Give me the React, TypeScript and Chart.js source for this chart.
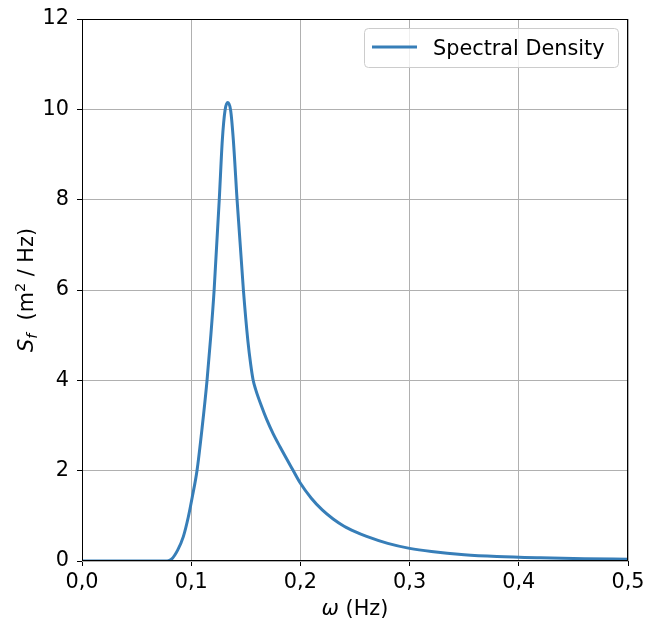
import React, { useEffect, useRef } from 'react';
import { Chart, registerables } from 'chart.js';

Chart.register(...registerables);

// ---- data ----
const frequencies = [
  0, 0.06, 0.078, 0.082, 0.0876, 0.0928, 0.0974, 0.101, 0.1053, 0.11, 0.1145,
  0.118, 0.121, 0.1257, 0.1285, 0.131, 0.1334, 0.1361, 0.1386, 0.142, 0.1478,
  0.152, 0.1545, 0.1566, 0.159, 0.1645, 0.169, 0.175, 0.1813, 0.193, 0.2, 0.21,
  0.22, 0.23, 0.24, 0.25, 0.26, 0.28, 0.3, 0.32, 0.35, 0.38, 0.42, 0.46, 0.5,
];
const density = [
  0, 0, 0, 0.04, 0.24, 0.54, 0.98, 1.42, 2.0, 2.95, 4.0,
  5.0, 6.0, 8.0, 9.32, 9.98, 10.15, 9.98, 9.32, 8.0, 6.0,
  4.85, 4.35, 4.02, 3.8, 3.42, 3.14, 2.82, 2.53, 2.02, 1.72, 1.39,
  1.13, 0.93, 0.77, 0.65, 0.55, 0.39, 0.28, 0.21, 0.14, 0.1, 0.07, 0.05, 0.04,
];
const xTickValues = [0, 0.1, 0.2, 0.3, 0.4, 0.5];
const yTickValues = [0, 2, 4, 6, 8, 10, 12];
const seriesLabel = 'Spectral Density';

const LINE_COLOR = '#377eb8';
const FONT = 'DejaVu Sans';
const FS = 20.8;

type Run = { text: string; size: number; italic?: boolean; dy?: number };

function drawRuns(ctx: CanvasRenderingContext2D, runs: Run[], cx: number, baseY: number) {
  let total = 0;
  const widths = runs.map((r) => {
    ctx.font = `${r.italic ? 'italic ' : ''}${r.size}px "${FONT}"`;
    const w = ctx.measureText(r.text).width;
    total += w;
    return w;
  });
  let x = cx - total / 2;
  ctx.textBaseline = 'alphabetic';
  ctx.textAlign = 'left';
  runs.forEach((r, i) => {
    ctx.font = `${r.italic ? 'italic ' : ''}${r.size}px "${FONT}"`;
    ctx.fillText(r.text, x, baseY + (r.dy || 0));
    x += widths[i];
  });
}

const decorPlugin = {
  id: 'decor',
  afterDraw(chart: any) {
    const { ctx, chartArea: a } = chart;
    ctx.save();
    // frame
    ctx.strokeStyle = '#000';
    ctx.lineWidth = 1;
    const l = Math.round(a.left) + 0.5;
    const t = Math.round(a.top) + 0.5;
    const r = Math.round(a.right) - 0.5;
    const b = Math.round(a.bottom) - 0.5;
    ctx.strokeRect(l, t, r - l, b - t);

    // legend
    const lx = 364.5, ly = 28.5, lw = 254, lh = 39;
    ctx.beginPath();
    (ctx as any).roundRect(lx, ly, lw, lh, 4);
    ctx.fillStyle = 'rgba(255,255,255,0.8)';
    ctx.fill();
    ctx.strokeStyle = '#cccccc';
    ctx.lineWidth = 1;
    ctx.stroke();
    ctx.beginPath();
    ctx.moveTo(372, 47);
    ctx.lineTo(417, 47);
    ctx.strokeStyle = LINE_COLOR;
    ctx.lineWidth = 3;
    ctx.stroke();
    ctx.fillStyle = '#000';
    ctx.font = `${FS}px "${FONT}"`;
    ctx.textAlign = 'left';
    ctx.textBaseline = 'alphabetic';
    ctx.fillText(seriesLabel, 433, 55);

    // x title
    ctx.fillStyle = '#000';
    drawRuns(ctx, [
      { text: 'ω', size: FS, italic: true },
      { text: ' (Hz)', size: FS },
    ], (a.left + a.right) / 2, 615);

    // y title
    ctx.save();
    ctx.translate(33, (a.top + a.bottom) / 2);
    ctx.rotate(-Math.PI / 2);
    drawRuns(ctx, [
      { text: 'S', size: FS, italic: true },
      { text: 'f', size: 14.5, italic: true, dy: 4 },
      { text: '  (m', size: FS },
      { text: '2', size: 14.5, dy: -8 },
      { text: ' / Hz)', size: FS },
    ], 0, 0);
    ctx.restore();
    ctx.restore();
  },
};

export default function App() {
  const ref = useRef<HTMLCanvasElement>(null);
  useEffect(() => {
    if (!ref.current) return;
    const points = frequencies.map((f, i) => ({ x: f, y: density[i] }));
    const chart = new Chart(ref.current, {
      type: 'line',
      data: {
        datasets: [
          {
            label: seriesLabel,
            data: points,
            borderColor: LINE_COLOR,
            backgroundColor: LINE_COLOR,
            borderWidth: 3,
            pointRadius: 0,
            fill: false,
            cubicInterpolationMode: 'monotone',
          },
        ],
      },
      options: {
        animation: false,
        responsive: false,
        devicePixelRatio: 1,
        layout: { padding: { left: 0, top: 19, right: 18, bottom: 0 } },
        plugins: { legend: { display: false }, tooltip: { enabled: false } },
        scales: {
          x: {
            type: 'linear',
            min: 0,
            max: 0.5,
            afterBuildTicks: (s: any) => {
              s.ticks = xTickValues.map((v) => ({ value: v }));
            },
            afterFit: (s: any) => {
              s.height = 60;
              s.paddingLeft = 0;
              s.paddingRight = 0;
            },
            ticks: {
              color: '#000',
              font: { family: FONT, size: FS },
              padding: 4,
              maxRotation: 0,
              callback: (v: any) => Number(v).toFixed(1).replace('.', ','),
            },
            grid: { color: '#b0b0b0', lineWidth: 1, tickColor: '#000', tickLength: 5, drawTicks: true },
            border: { display: false },
          },
          y: {
            type: 'linear',
            min: 0,
            max: 12,
            afterBuildTicks: (s: any) => {
              s.ticks = yTickValues.map((v) => ({ value: v }));
            },
            afterFit: (s: any) => {
              s.width = 82;
              s.paddingTop = 0;
              s.paddingBottom = 0;
            },
            ticks: {
              color: '#000',
              font: { family: FONT, size: FS },
              padding: 8,
              callback: (v: any) => String(v),
            },
            grid: { color: '#b0b0b0', lineWidth: 1, tickColor: '#000', tickLength: 5, drawTicks: true },
            border: { display: false },
          },
        },
      },
      plugins: [decorPlugin],
    });
    return () => chart.destroy();
  }, []);
  return (
    <div style={{ position: 'absolute', left: 0, top: 0, width: 646, height: 621, background: '#fff' }}>
      <canvas ref={ref} width={646} height={621} style={{ display: 'block', width: 646, height: 621 }} />
    </div>
  );
}
